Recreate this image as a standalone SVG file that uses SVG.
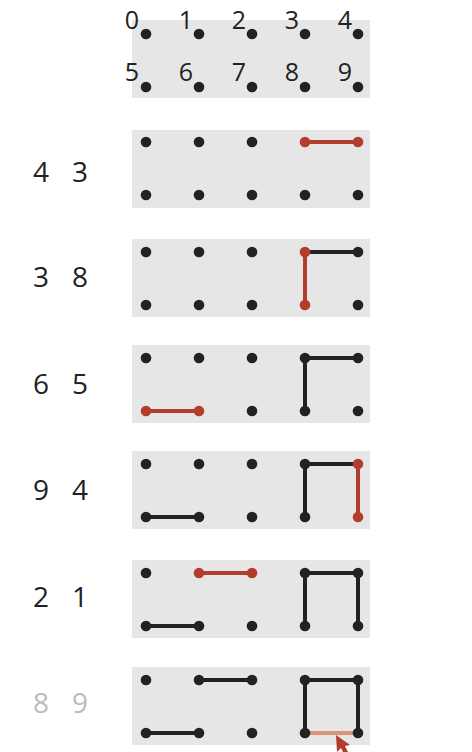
<svg xmlns="http://www.w3.org/2000/svg" width="472" height="752" viewBox="0 0 472 752">
<style>
.panel{fill:#e6e6e6}
.d{fill:#222}
.r{fill:#b33d2c}
.e{stroke:#222;stroke-width:4;stroke-linecap:round;fill:none}
.er{stroke:#b33d2c;stroke-width:4;stroke-linecap:round;fill:none}
.es{stroke:#d8937a;stroke-width:4;fill:none}
.lab{font-family:"Open Sans","Noto Sans",sans-serif;font-size:25px;fill:#222;text-anchor:middle}
.big{font-family:"Open Sans","Noto Sans",sans-serif;font-size:28px;fill:#222;text-anchor:middle}
.gray{fill:#bbb}
</style>
<g id="legend">
<rect class="panel" x="132" y="20" width="238" height="78"/>
<g class="d">
<circle cx="146" cy="34" r="5.3"/><circle cx="199" cy="34" r="5.3"/><circle cx="252" cy="34" r="5.3"/><circle cx="305" cy="34" r="5.3"/><circle cx="358" cy="34" r="5.3"/>
<circle cx="146" cy="87" r="5.3"/><circle cx="199" cy="87" r="5.3"/><circle cx="252" cy="87" r="5.3"/><circle cx="305" cy="87" r="5.3"/><circle cx="358" cy="87" r="5.3"/>
</g>
<text class="lab" x="132" y="28.5">0</text><text class="lab" x="186" y="28.5">1</text><text class="lab" x="239" y="28.5">2</text><text class="lab" x="292" y="28.5">3</text><text class="lab" x="345" y="28.5">4</text>
<text class="lab" x="132" y="81">5</text><text class="lab" x="186" y="81">6</text><text class="lab" x="239" y="81">7</text><text class="lab" x="292" y="81">8</text><text class="lab" x="345" y="81">9</text>
</g>

<g id="step1">
<text class="big" x="41" y="182">4</text><text class="big" x="80" y="182">3</text>
<rect class="panel" x="132" y="130" width="238" height="78"/>
</g>
<g id="step2">
<text class="big" x="41" y="287">3</text><text class="big" x="80" y="287">8</text>
<rect class="panel" x="132" y="239" width="238" height="78"/>
</g>
<g id="step3">
<text class="big" x="41" y="394">6</text><text class="big" x="80" y="394">5</text>
<rect class="panel" x="132" y="345" width="238" height="78"/>
</g>
<g id="step4">
<text class="big" x="41" y="500">9</text><text class="big" x="80" y="500">4</text>
<rect class="panel" x="132" y="451" width="238" height="78"/>
</g>
<g id="step5">
<text class="big" x="41" y="607">2</text><text class="big" x="80" y="607">1</text>
<rect class="panel" x="132" y="560" width="238" height="78"/>
</g>
<g id="step6">
<text class="big gray" x="41" y="713">8</text><text class="big gray" x="80" y="713">9</text>
<rect class="panel" x="132" y="667" width="238" height="78"/>
</g>

<g id="connectors">
<line class="er" x1="305" y1="142" x2="358" y2="142"/>
<line class="e" x1="305" y1="252" x2="358" y2="252"/>
<line class="er" x1="305" y1="252" x2="305" y2="305"/>
<line class="e" x1="305" y1="358" x2="358" y2="358"/>
<line class="e" x1="305" y1="358" x2="305" y2="411"/>
<line class="er" x1="146" y1="411" x2="199" y2="411"/>
<line class="e" x1="305" y1="464" x2="358" y2="464"/>
<line class="e" x1="305" y1="464" x2="305" y2="517"/>
<line class="e" x1="146" y1="517" x2="199" y2="517"/>
<line class="er" x1="358" y1="464" x2="358" y2="517"/>
<line class="e" x1="305" y1="573" x2="358" y2="573"/>
<line class="e" x1="305" y1="573" x2="305" y2="626"/>
<line class="e" x1="146" y1="626" x2="199" y2="626"/>
<line class="e" x1="358" y1="573" x2="358" y2="626"/>
<line class="er" x1="199" y1="573" x2="252" y2="573"/>
<line class="e" x1="305" y1="680" x2="358" y2="680"/>
<line class="e" x1="305" y1="680" x2="305" y2="733"/>
<line class="e" x1="146" y1="733" x2="199" y2="733"/>
<line class="e" x1="358" y1="680" x2="358" y2="733"/>
<line class="e" x1="199" y1="680" x2="252" y2="680"/>
<line class="es" x1="305" y1="733" x2="358" y2="733"/>
</g>

<g id="dots">
<g class="d">
<circle cx="146" cy="142" r="5.3"/><circle cx="199" cy="142" r="5.3"/><circle cx="252" cy="142" r="5.3"/>
<circle cx="146" cy="195" r="5.3"/><circle cx="199" cy="195" r="5.3"/><circle cx="252" cy="195" r="5.3"/><circle cx="305" cy="195" r="5.3"/><circle cx="358" cy="195" r="5.3"/>
<circle cx="146" cy="252" r="5.3"/><circle cx="199" cy="252" r="5.3"/><circle cx="252" cy="252" r="5.3"/><circle cx="358" cy="252" r="5.3"/>
<circle cx="146" cy="305" r="5.3"/><circle cx="199" cy="305" r="5.3"/><circle cx="252" cy="305" r="5.3"/><circle cx="358" cy="305" r="5.3"/>
<circle cx="146" cy="358" r="5.3"/><circle cx="199" cy="358" r="5.3"/><circle cx="252" cy="358" r="5.3"/><circle cx="305" cy="358" r="5.3"/><circle cx="358" cy="358" r="5.3"/>
<circle cx="252" cy="411" r="5.3"/><circle cx="305" cy="411" r="5.3"/><circle cx="358" cy="411" r="5.3"/>
<circle cx="146" cy="464" r="5.3"/><circle cx="199" cy="464" r="5.3"/><circle cx="252" cy="464" r="5.3"/><circle cx="305" cy="464" r="5.3"/>
<circle cx="146" cy="517" r="5.3"/><circle cx="199" cy="517" r="5.3"/><circle cx="252" cy="517" r="5.3"/><circle cx="305" cy="517" r="5.3"/>
<circle cx="146" cy="573" r="5.3"/><circle cx="305" cy="573" r="5.3"/><circle cx="358" cy="573" r="5.3"/>
<circle cx="146" cy="626" r="5.3"/><circle cx="199" cy="626" r="5.3"/><circle cx="252" cy="626" r="5.3"/><circle cx="305" cy="626" r="5.3"/><circle cx="358" cy="626" r="5.3"/>
<circle cx="146" cy="680" r="5.3"/><circle cx="199" cy="680" r="5.3"/><circle cx="252" cy="680" r="5.3"/><circle cx="305" cy="680" r="5.3"/><circle cx="358" cy="680" r="5.3"/>
<circle cx="146" cy="733" r="5.3"/><circle cx="199" cy="733" r="5.3"/><circle cx="252" cy="733" r="5.3"/><circle cx="305" cy="733" r="5.3"/><circle cx="358" cy="733" r="5.3"/>
</g>
<g class="r">
<circle cx="305" cy="142" r="5.3"/><circle cx="358" cy="142" r="5.3"/>
<circle cx="305" cy="252" r="5.3"/><circle cx="305" cy="305" r="5.3"/>
<circle cx="146" cy="411" r="5.3"/><circle cx="199" cy="411" r="5.3"/>
<circle cx="358" cy="464" r="5.3"/><circle cx="358" cy="517" r="5.3"/>
<circle cx="199" cy="573" r="5.3"/><circle cx="252" cy="573" r="5.3"/>
</g>
</g>

<g id="cursor">
<polygon points="336,735 337,752 341,748 345,756 349,754 345,746 350,745" fill="#b33d2c"/>
</g>
</svg>
